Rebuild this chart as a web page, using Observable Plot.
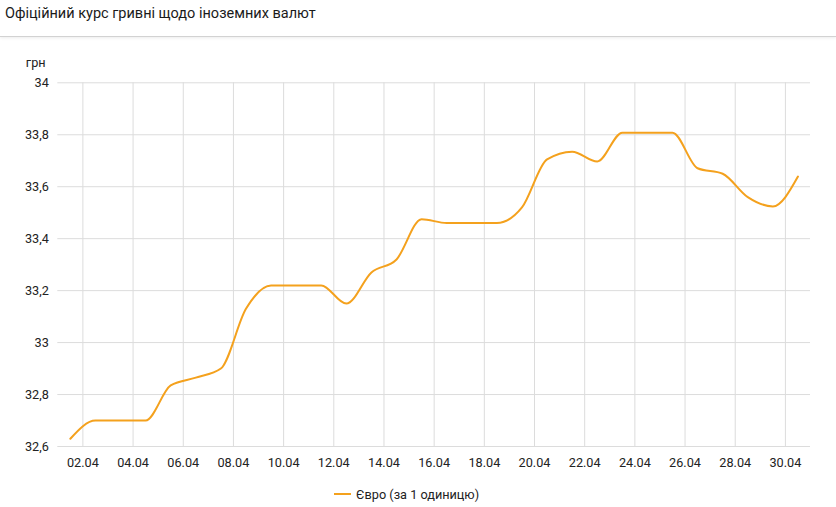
<!DOCTYPE html>
<html>
<head>
<meta charset="utf-8">
<script src="https://cdn.jsdelivr.net/npm/d3@7"></script>
<script src="https://cdn.jsdelivr.net/npm/@observablehq/plot@0.6"></script>
<style>
  html, body { margin: 0; padding: 0; background: #fff; width: 836px; height: 507px; overflow: hidden; font-family: Roboto, "Noto Sans", sans-serif; }
  #title { position: absolute; left: 0; top: 0; width: 836px; height: 37px; border-bottom: 1px solid #d2d2d2; box-shadow: 0 1px 3px rgba(0,0,0,0.08); font-size: 14.5px; color: #1a1a1a; line-height: 27px; padding-left: 5px; box-sizing: border-box; }
  #chart { position: absolute; left: 0; top: 38px; }
  #legend { position: absolute; left: 334px; top: 485px; height: 18px; display: flex; align-items: center; font-size: 12.7px; color: #222; }
  #legend .sw { width: 17px; height: 2px; background: #f4a11d; margin-right: 5px; }
</style>
</head>
<body>
<div id="title">Офіційний курс гривні щодо іноземних валют</div>
<div id="chart"></div>
<div id="legend"><span class="sw"></span><span id="legendText"></span></div>
<script>
// Data: day of April -> EUR rate (UAH per 1 EUR)
const days = [1,2,3,4,5,6,7,8,9,10,11,12,13,14,15,16,17,18,19,20,21,22,23,24,25,26,27,28,29,30];
const euro = [32.63,32.70,32.70,32.70,32.835,32.865,32.90,33.13,33.22,33.22,33.22,33.15,33.27,33.32,33.475,33.46,33.46,33.46,33.52,33.705,33.735,33.697,33.808,33.808,33.808,33.671,33.65,33.56,33.524,33.639];
const seriesName = "Євро (за 1 одиницю)";
const yUnit = "грн";
const yTicks = [32.6,32.8,33,33.2,33.4,33.6,33.8,34];
const xTickDays = [2,4,6,8,10,12,14,16,18,20,22,24,26,28,30];
const year = 2021, month = 3; // April

const data = days.map((d, i) => ({date: new Date(Date.UTC(year, month, d, 12)), value: euro[i]}));
const xTicks = xTickDays.map(d => new Date(Date.UTC(year, month, d)));
const fmtY = v => String(+v.toFixed(1)).replace(".", ",");
const fmtX = d3.utcFormat("%d.%m");

document.getElementById("legendText").textContent = seriesName;

const chart = Plot.plot({
  width: 836,
  height: 438,
  marginLeft: 57.3,
  marginRight: 26,
  marginTop: 44.3,
  marginBottom: 30,
  style: {fontFamily: "Roboto, sans-serif", fontSize: "12.7px", color: "#222", background: "transparent"},
  x: {type: "utc", domain: [new Date(Date.UTC(year, month, 1)), new Date(Date.UTC(year, month + 1, 1))]},
  y: {domain: [32.6, 34]},
  marks: [
    Plot.gridX(xTicks, {stroke: "#dcdcdc", strokeOpacity: 1}),
    Plot.gridY(yTicks, {stroke: "#dcdcdc", strokeOpacity: 1}),
    Plot.axisX(xTicks, {tickSize: 0, tickPadding: 11, tickFormat: fmtX, label: null, fill: "#222"}),
    Plot.axisY(yTicks, {tickSize: 0, tickPadding: 9, tickFormat: fmtY, label: null, fill: "#222"}),
    Plot.text([yUnit], {frameAnchor: "top-left", dx: -32, dy: -25, textAnchor: "start", fill: "#222", fontSize: 12.7}),
    Plot.line(data, {x: "date", y: "value", stroke: "#f4a11d", strokeWidth: 2, curve: "monotone-x"})
  ]
});
document.getElementById("chart").appendChild(chart);
</script>
</body>
</html>
